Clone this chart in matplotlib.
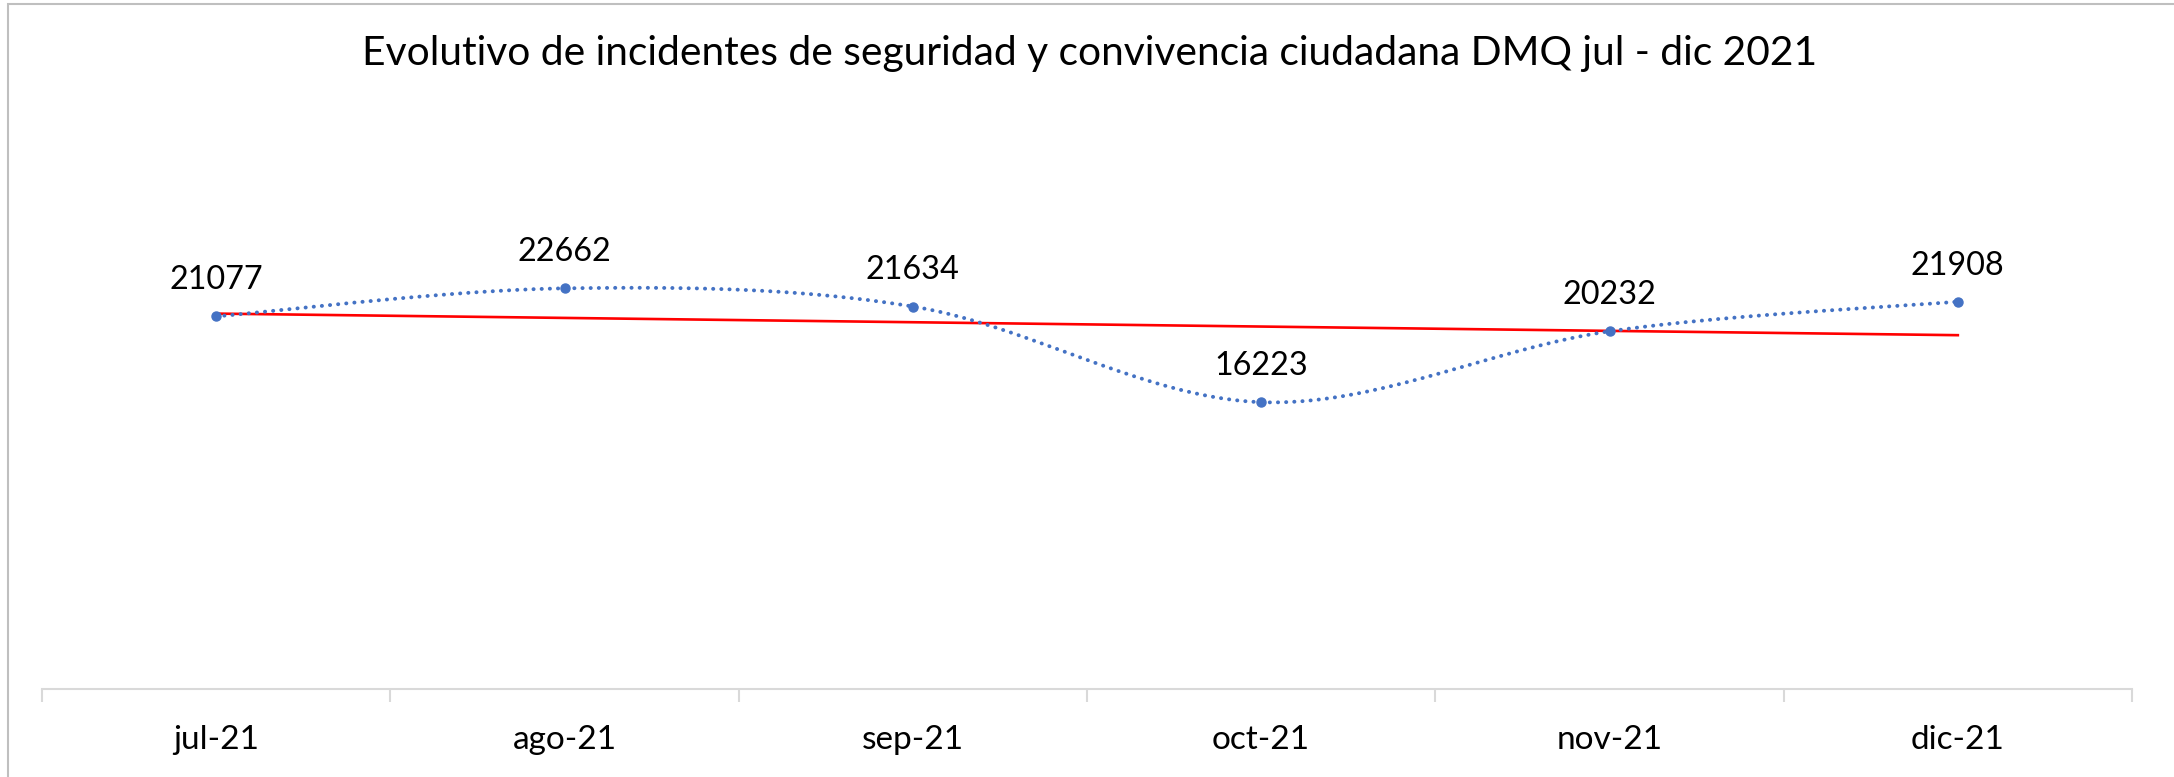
import numpy as np
import matplotlib.pyplot as plt
from matplotlib.patches import Rectangle

months = ['jul-21', 'ago-21', 'sep-21', 'oct-21', 'nov-21', 'dic-21']
incidents = [21077, 22662, 21634, 16223, 20232, 21908]
title = 'Evolutivo de incidentes de seguridad y convivencia ciudadana DMQ jul - dic 2021'

plt.rcParams['font.family'] = ['Lato', 'DejaVu Sans']

BLUE = '#4472C4'
GRID = '#D9D9D9'


def smooth_line(x, y, steps=40):
    # bezier smoothing like Excel's "smoothed line" option
    px = np.r_[x[0], x, x[-1]]
    py = np.r_[y[0], y, y[-1]]
    t = np.linspace(0, 1, steps)[:, None]
    out = []
    for i in range(1, len(px) - 2):
        p0 = np.array([px[i], py[i]])
        p3 = np.array([px[i + 1], py[i + 1]])
        c1 = p0 + (np.array([px[i + 1], py[i + 1]]) - np.array([px[i - 1], py[i - 1]])) / 6
        c2 = p3 - (np.array([px[i + 2], py[i + 2]]) - np.array([px[i], py[i]])) / 6
        seg = ((1 - t) ** 3) * p0 + 3 * ((1 - t) ** 2) * t * c1 + 3 * (1 - t) * t ** 2 * c2 + t ** 3 * p3
        out.append(seg if i == 1 else seg[1:])
    out = np.vstack(out)
    return out[:, 0], out[:, 1]


fig = plt.figure(figsize=(21.74, 7.77), dpi=100)
ax = fig.add_axes([42 / 2174, 1 - 689 / 777, (2132 - 42) / 2174, 442 / 777])

x = np.arange(len(months))
y = np.array(incidents, dtype=float)

# smoothed dotted series
sx, sy = smooth_line(x.astype(float), y)
ax.plot(sx, sy, color=BLUE, lw=2.8, linestyle=(0, (0.05, 2.05)),
        dash_capstyle='round', zorder=3)
ax.plot(x, y, 'o', color=BLUE, markersize=6.5, zorder=4)

# linear trendline
slope, icpt = np.polyfit(x, y, 1)
ax.plot(x, slope * x + icpt, color='red', lw=1.9, zorder=2)

for xi, v in zip(x, incidents):
    ax.annotate(str(v), (xi, v), xytext=(0, 26), textcoords='offset points',
                ha='center', va='center', fontsize=23.3, color='black')

ax.set_xlim(-0.5, len(months) - 0.5)
ax.set_ylim(0, 25000)
ax.set_yticks([])
for s in ['left', 'right', 'top']:
    ax.spines[s].set_visible(False)
ax.spines['bottom'].set_color(GRID)
ax.spines['bottom'].set_linewidth(1.5)

ax.set_xticks(x)
ax.set_xticklabels(months, fontsize=24)
ax.tick_params(axis='x', which='major', length=0, pad=26)
ax.set_xticks(np.arange(-0.5, len(months)), minor=True)
ax.tick_params(axis='x', which='minor', length=9, width=1.5, color=GRID, direction='out')

fig.text(1090 / 2174, 1 - 54 / 777, title, ha='center', va='center', fontsize=29.3)

# chart border
fig.patches.append(Rectangle((8 / 2174, -0.1), 1.2, 1 - 4 / 777 + 0.1,
                             transform=fig.transFigure, fill=False,
                             edgecolor='#BFBFBF', lw=1.5))

fig.savefig('out.png', dpi=100)
